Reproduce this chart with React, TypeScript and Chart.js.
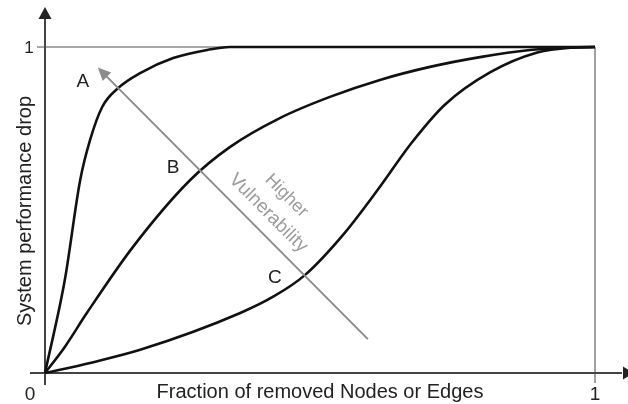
import React, { useEffect, useRef } from "react";
import { Chart, registerables } from "chart.js";

Chart.register(...registerables);

// Curve A (most vulnerable)
const curveAx = [0, 0.036, 0.064, 0.082, 0.104, 0.133, 0.173, 0.233, 0.295, 0.336, 1];
const curveAy = [0, 0.285, 0.592, 0.715, 0.816, 0.874, 0.92, 0.966, 0.991, 1, 1];
// Curve B
const curveBx = [0, 0.036, 0.076, 0.16, 0.264, 0.336, 0.427, 0.518, 0.609, 0.7, 0.791, 0.882, 0.936, 1];
const curveBy = [0, 0.08, 0.184, 0.387, 0.592, 0.693, 0.782, 0.847, 0.899, 0.939, 0.969, 0.991, 0.997, 1];
// Curve C (least vulnerable)
const curveCx = [0, 0.082, 0.173, 0.355, 0.418, 0.473, 0.545, 0.605, 0.667, 0.727, 0.809, 0.895, 0.955, 1];
const curveCy = [0, 0.031, 0.071, 0.184, 0.237, 0.301, 0.43, 0.562, 0.707, 0.823, 0.922, 0.983, 0.998, 1];

// Annotation text
const curveLabels = ["A", "B", "C"];
const curveLabelX = [0.069, 0.233, 0.418];
const curveLabelY = [0.894, 0.63, 0.292];
const arrowFrom = [0.587, 0.104];
const arrowTo = [0.096, 0.937];
const arrowTextLines = ["Higher", "Vulnerability"];
const arrowTextX = [0.439, 0.406];
const arrowTextY = [0.544, 0.49];

const xTitle = "Fraction of removed Nodes or Edges";
const yTitle = "System performance drop";
const FONT = '"Liberation Sans", Arial, sans-serif';

const toPts = (xs: number[], ys: number[]) => xs.map((x, i) => ({ x, y: ys[i] }));

const decor = {
  id: "decor",
  beforeDatasetsDraw(chart: any) {
    const ctx = chart.ctx;
    const sx = chart.scales.x;
    const sy = chart.scales.y;
    const x0 = sx.getPixelForValue(0);
    const x1 = sx.getPixelForValue(1);
    const y0 = sy.getPixelForValue(0);
    const y1 = sy.getPixelForValue(1);
    ctx.save();
    // reference lines at 1
    ctx.strokeStyle = "#8a8a8a";
    ctx.lineWidth = 1.6;
    ctx.beginPath();
    ctx.moveTo(x0 - 8, y1);
    ctx.lineTo(x1, y1);
    ctx.moveTo(x1, y1);
    ctx.lineTo(x1, y0 + 10);
    ctx.stroke();
    // axes
    ctx.strokeStyle = "#444";
    ctx.fillStyle = "#222";
    ctx.lineWidth = 2;
    ctx.beginPath();
    ctx.moveTo(x0, y0 + 12);
    ctx.lineTo(x0, 16);
    ctx.moveTo(x0 - 15, y0);
    ctx.lineTo(chart.width - 6, y0);
    ctx.stroke();
    // arrow heads
    ctx.beginPath();
    ctx.moveTo(x0, 7);
    ctx.lineTo(x0 - 6.5, 19);
    ctx.lineTo(x0 + 6.5, 19);
    ctx.closePath();
    ctx.fill();
    ctx.beginPath();
    ctx.moveTo(chart.width + 6, y0);
    ctx.lineTo(chart.width - 5, y0 - 6.5);
    ctx.lineTo(chart.width - 5, y0 + 6.5);
    ctx.closePath();
    ctx.fill();
    // tick labels
    ctx.fillStyle = "#222";
    ctx.font = `19px ${FONT}`;
    ctx.textAlign = "center";
    ctx.textBaseline = "alphabetic";
    ctx.fillText("0", x0 - 15, y0 + 27);
    ctx.fillText("1", x1, y0 + 27);
    ctx.font = `17px ${FONT}`;
    ctx.textBaseline = "middle";
    ctx.fillText("1", x0 - 16, y1 + 1);
    // titles
    ctx.font = `20px ${FONT}`;
    ctx.textBaseline = "alphabetic";
    ctx.fillText(xTitle, (x0 + x1) / 2 + 0, y0 + 25);
    ctx.save();
    ctx.translate(31, (y0 + y1) / 2 + 1);
    ctx.rotate(-Math.PI / 2);
    ctx.fillText(yTitle, 0, 0);
    ctx.restore();
    ctx.restore();
  },
  afterDatasetsDraw(chart: any) {
    const ctx = chart.ctx;
    const sx = chart.scales.x;
    const sy = chart.scales.y;
    ctx.save();
    // vulnerability arrow
    const ax0 = sx.getPixelForValue(arrowFrom[0]);
    const ay0 = sy.getPixelForValue(arrowFrom[1]);
    const ax1 = sx.getPixelForValue(arrowTo[0]);
    const ay1 = sy.getPixelForValue(arrowTo[1]);
    const ang = Math.atan2(ay1 - ay0, ax1 - ax0);
    const hl = 13;
    const hw = 6;
    ctx.strokeStyle = "#8c8c8c";
    ctx.fillStyle = "#8c8c8c";
    ctx.lineWidth = 2;
    ctx.beginPath();
    ctx.moveTo(ax0, ay0);
    ctx.lineTo(ax1 - Math.cos(ang) * (hl - 2), ay1 - Math.sin(ang) * (hl - 2));
    ctx.stroke();
    ctx.beginPath();
    ctx.moveTo(ax1, ay1);
    const bx = ax1 - Math.cos(ang) * hl;
    const by = ay1 - Math.sin(ang) * hl;
    ctx.lineTo(bx + Math.sin(ang) * hw, by - Math.cos(ang) * hw);
    ctx.lineTo(bx - Math.sin(ang) * hw, by + Math.cos(ang) * hw);
    ctx.closePath();
    ctx.fill();
    // arrow text
    ctx.fillStyle = "#9c9c9c";
    ctx.textAlign = "center";
    ctx.textBaseline = "middle";
    arrowTextLines.forEach((t, i) => {
      ctx.save();
      ctx.translate(sx.getPixelForValue(arrowTextX[i]), sy.getPixelForValue(arrowTextY[i]));
      ctx.rotate(Math.PI / 4);
      ctx.font = `${i === 0 ? 18 : 19}px ${FONT}`;
      ctx.fillText(t, 0, 0);
      ctx.restore();
    });
    // curve labels
    ctx.fillStyle = "#222";
    ctx.font = `19px ${FONT}`;
    curveLabels.forEach((t, i) => {
      ctx.fillText(t, sx.getPixelForValue(curveLabelX[i]), sy.getPixelForValue(curveLabelY[i]));
    });
    ctx.restore();
  },
};

export default function App() {
  const ref = useRef<HTMLCanvasElement>(null);
  useEffect(() => {
    document.body.style.margin = "0";
    if (!ref.current) return;
    const mk = (xs: number[], ys: number[]) => ({
      data: toPts(xs, ys),
      borderColor: "#111",
      borderWidth: 2.6,
      pointRadius: 0,
      fill: false,
      cubicInterpolationMode: "monotone" as const,
      clip: false as any,
    });
    const chart = new Chart(ref.current, {
      type: "line",
      data: {
        datasets: [mk(curveAx, curveAy), mk(curveBx, curveBy), mk(curveCx, curveCy)],
      },
      options: {
        animation: false,
        responsive: false,
        devicePixelRatio: 1,
        layout: { padding: { left: 45, right: 33, top: 47, bottom: 31 } },
        plugins: { legend: { display: false }, tooltip: { enabled: false } },
        scales: {
          x: { type: "linear", min: 0, max: 1, display: false },
          y: { type: "linear", min: 0, max: 1, display: false },
        },
      },
      plugins: [decor],
    });
    return () => chart.destroy();
  }, []);
  return <canvas ref={ref} width={628} height={404} style={{ display: "block" }} />;
}
